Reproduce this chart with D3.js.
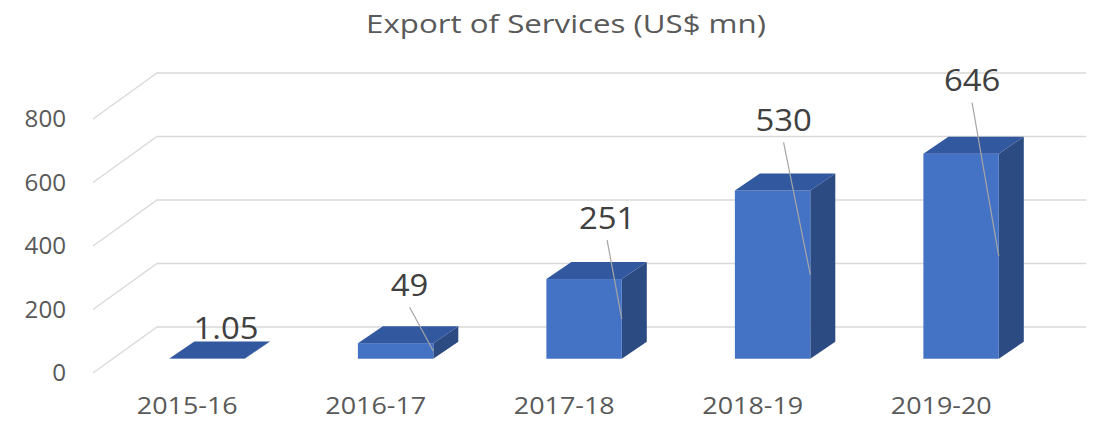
<!DOCTYPE html>
<html>
<head>
<meta charset="utf-8">
<script src="https://cdn.jsdelivr.net/npm/d3@7"></script>
<style>
  body { margin: 0; background: #fff; }
  text { font-family: "Open Sans", sans-serif; }
</style>
</head>
<body>
<div id="chart"></div>
<script>
const categories = ["2015-16", "2016-17", "2017-18", "2018-19", "2019-20"];
const values = [1.05, 49, 251, 530, 646];
const labels = ["1.05", "49", "251", "530", "646"];
const yTicks = [0, 200, 400, 600, 800];
// how far the data labels were dragged from the bar top (px)
const labelLift = [13, 41, 44, 53, 56];
const labelShift = [19, 14, 23, 11, 11];

const width = 1094, height = 421;
const front = { left: 93, right: 1035.5, bottom: 373 };
const depth = { dx: 64, dy: -46 };      // floor depth
const barDepth = { dx: 25, dy: -17 };   // bar depth
const barFrontAt = 0.31;                // bar front face position in floor depth

const svg = d3.select("#chart")
  .append("svg")
    .attr("width", width)
    .attr("height", height);

// text is a bit wider in the original, so stretch it horizontally
function place(sel, px, py, sx) {
  sel.attr("transform", (d, i) => `translate(${px(d, i)},${py(d, i)}) scale(${sx},1)`);
}

const x = d3.scaleBand()
  .domain(categories)
  .range([front.left, front.right])
  .paddingInner(0.6)
  .paddingOuter(0.3);

const y = d3.scaleLinear()
  .domain([0, 800])
  .range([front.bottom, front.bottom - 254]);

// gridlines: slanted on the left wall, then flat along the back
svg.append("g")
  .selectAll("path")
  .data(yTicks)
  .enter().append("path")
    .attr("fill", "none")
    .attr("stroke", "#d9d9d9")
    .attr("stroke-width", 1.3)
    .attr("d", d => {
      const y0 = y(d);
      return `M${front.left},${y0}L${front.left + depth.dx},${y0 + depth.dy}L${width - 8},${y0 + depth.dy}`;
    });

// y tick labels
svg.append("g")
  .selectAll("text")
  .data(yTicks)
  .enter().append("text")
    .attr("dy", "0.35em")
    .attr("text-anchor", "end")
    .attr("fill", "#595959")
    .style("font-size", "23px")
    .text(d => d)
    .call(place, () => 66, d => y(d), 1.05);

// x labels
svg.append("g")
  .selectAll("text")
  .data(categories)
  .enter().append("text")
    .attr("dy", "0.35em")
    .attr("text-anchor", "middle")
    .attr("fill", "#595959")
    .style("font-size", "23px")
    .text(d => d)
    .call(place, d => x(d) + x.bandwidth() / 2, () => 406, 1.17);

// bars
const offX = depth.dx * barFrontAt, offY = depth.dy * barFrontAt;
const bars = categories.map((c, i) => {
  const x0 = x(c) + offX, x1 = x0 + x.bandwidth();
  const yb = y(0) + offY, yt = y(values[i]) + offY;
  return { i, x0, x1, yb, yt };
});

const g = svg.append("g");
bars.forEach(b => {
  const dx = barDepth.dx, dy = barDepth.dy;
  // side
  g.append("path")
    .attr("fill", "#2B4B82")
    .attr("d", `M${b.x1},${b.yb}L${b.x1 + dx},${b.yb + dy}L${b.x1 + dx},${b.yt + dy}L${b.x1},${b.yt}Z`);
  // front
  g.append("rect")
    .attr("fill", "#4472C4")
    .attr("x", b.x0)
    .attr("y", b.yt)
    .attr("width", b.x1 - b.x0)
    .attr("height", Math.max(0, b.yb - b.yt));
  // top
  g.append("path")
    .attr("fill", "#3258A0")
    .attr("d", `M${b.x0},${b.yt}L${b.x1},${b.yt}L${b.x1 + dx},${b.yt + dy}L${b.x0 + dx},${b.yt + dy}Z`);
});

// data labels with leader lines
bars.forEach(b => {
  const lx = (b.x0 + b.x1) / 2 + labelShift[b.i];
  const ly = b.yt + barDepth.dy - labelLift[b.i];
  if (b.yb - b.yt > 5) {
    svg.append("line")
      .attr("x1", lx)
      .attr("y1", ly + 22)
      .attr("x2", b.x1)
      .attr("y2", (b.yt + b.yb) / 2)
      .attr("stroke", "#a6a6a6")
      .attr("stroke-width", 1.2);
  }
  svg.append("text")
    .datum(b)
    .attr("dy", "0.35em")
    .attr("text-anchor", "middle")
    .attr("fill", "#404040")
    .style("font-size", "31px")
    .text(labels[b.i])
    .call(place, () => lx, () => ly, 1.06);
});

// title
svg.append("text")
  .attr("dy", "0.35em")
  .attr("text-anchor", "middle")
  .attr("fill", "#595959")
  .style("font-size", "25px")
  .text("Export of Services (US$ mn)")
  .call(place, () => 566, () => 24, 1.25);
</script>
</body>
</html>
